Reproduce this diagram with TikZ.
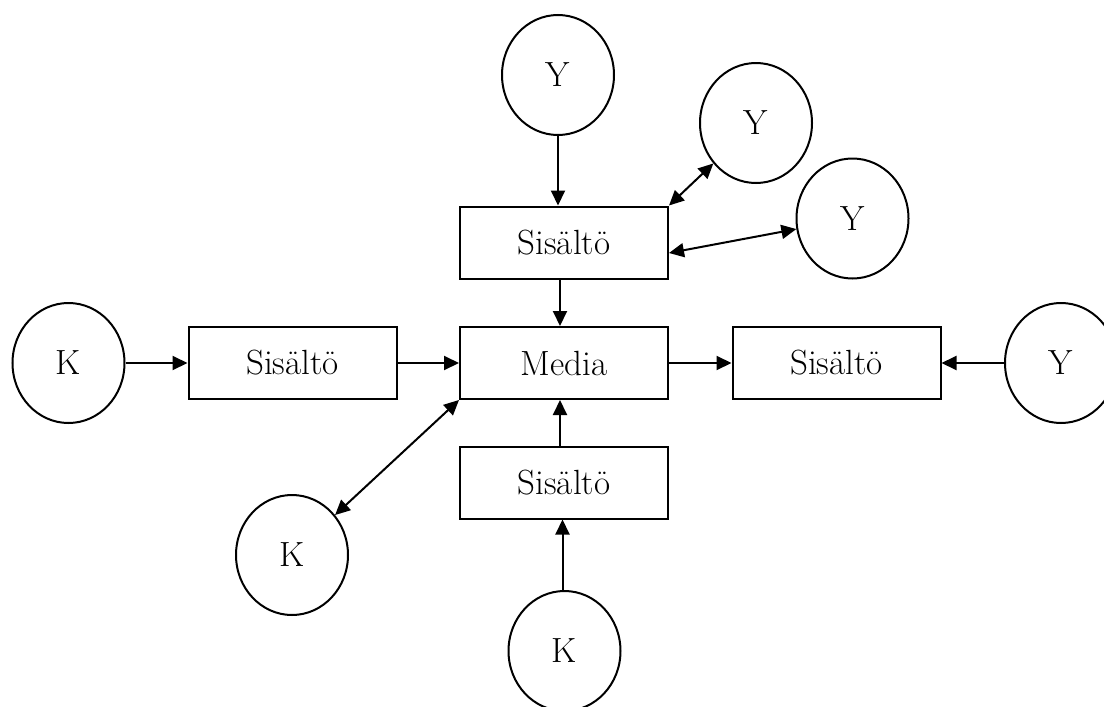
\documentclass[tikz,border=0pt]{standalone}
\usetikzlibrary{shapes.geometric,arrows.meta}
\begin{document}
\begin{tikzpicture}[x=1pt,y=-1pt,
  every node/.style={font=\fontsize{35}{40}\selectfont},
  circ/.style={draw,ellipse,line width=2pt,minimum width=112pt,minimum height=120pt,inner sep=0pt},
  boxx/.style={draw,rectangle,line width=2pt,minimum width=208pt,minimum height=72pt,inner sep=0pt},
  conn/.style={line width=2pt,-{Triangle[length=15pt,width=14pt]}},
  dconn/.style={line width=2pt,{Triangle[length=15pt,width=14pt]}-{Triangle[length=15pt,width=14pt]}}]
\useasboundingbox (0,0) rectangle (1104,707);
\node[circ] (yTop) at (558,75) {Y};
\node[circ] (y2) at (756,123) {Y};
\node[circ] (y3) at (852.5,218.5) {Y};
\node[boxx] (boxTop) at (564,242.5) {Sisältö};
\node[boxx] (media) at (564,363) {Media};
\node[boxx] (leftBox) at (292.5,363) {Sisältö};
\node[boxx] (rightBox) at (836.5,363) {Sisältö};
\node[circ] (kLeft) at (68.5,363) {K};
\node[circ] (yRight) at (1061,363) {Y};
\node[boxx] (boxBottom) at (564,482.5) {Sisältö};
\node[circ] (kLL) at (292,555) {K};
\node[circ] (kBottom) at (564.5,651) {K};
\draw[conn] (yTop.south) -- (yTop.south |- boxTop.north);
\draw[conn] ([xshift=-4pt]boxTop.south) -- ([xshift=-4pt]media.north);
\draw[dconn] (boxTop.north east) -- (y2);
\draw[dconn] ([yshift=-10.5pt]boxTop.east) -- (y3);
\draw[conn] (kLeft.east) -- (leftBox.west);
\draw[conn] (leftBox.east) -- (media.west);
\draw[conn] (media.east) -- (rightBox.west);
\draw[conn] (yRight.west) -- (rightBox.east);
\draw[conn] ([xshift=-4pt]boxBottom.north) -- ([xshift=-4pt]media.south);
\draw[conn] ([xshift=-2pt]kBottom.north) -- ([xshift=-2pt]kBottom.north |- boxBottom.south);
\draw[dconn] (media.south west) -- (kLL);
\end{tikzpicture}
\end{document}
